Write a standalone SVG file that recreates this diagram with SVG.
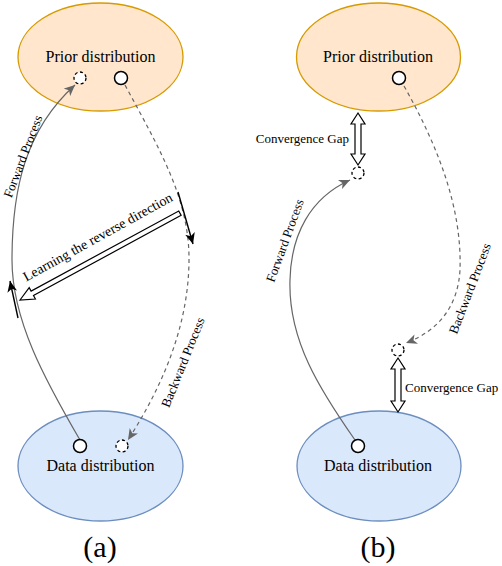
<svg xmlns="http://www.w3.org/2000/svg" width="502" height="566" viewBox="0 0 502 566">
<defs>
<style>
.prior{fill:#ffe6cc;stroke:#d79b00;stroke-width:1.3}
.data{fill:#dae8fc;stroke:#6c8ebf;stroke-width:1.3}
.pt{fill:#fff;stroke:#000;stroke-width:1.5}
.ptd{fill:#fff;stroke:#000;stroke-width:1.3;stroke-dasharray:3 2.5}
.edge{fill:none;stroke:#666;stroke-width:1.2}
.dash{stroke-dasharray:4 3.5}
.blk{fill:none;stroke:#000;stroke-width:1.4}
.hollow{fill:#fff;stroke:#000;stroke-width:1.2}
</style>
<marker id="ag" markerUnits="userSpaceOnUse" markerWidth="12" markerHeight="10" refX="11" refY="5" orient="auto">
<path d="M0,0 L11,5 L0,10 L3,5 z" fill="#666"/>
</marker>
<marker id="ab" markerUnits="userSpaceOnUse" markerWidth="12" markerHeight="10" refX="11" refY="5" orient="auto">
<path d="M0,0 L11,5 L0,10 L3,5 z" fill="#000"/>
</marker>
</defs>
<rect width="502" height="566" fill="#fff"/>

<g id="prior-a">
<ellipse class="prior" cx="100.5" cy="57" rx="82.5" ry="54"/>
<text x="100.5" y="62" text-anchor="middle" font-family="Liberation Serif" font-size="16">Prior distribution</text>
</g>
<g id="data-a">
<ellipse class="data" cx="100.5" cy="466" rx="82.5" ry="55"/>
<text x="100.5" y="471" text-anchor="middle" font-family="Liberation Serif" font-size="16">Data distribution</text>
</g>
<g id="prior-b">
<ellipse class="prior" cx="378.5" cy="57" rx="82" ry="54"/>
<text x="378" y="62" text-anchor="middle" font-family="Liberation Serif" font-size="16">Prior distribution</text>
</g>
<g id="data-b">
<ellipse class="data" cx="379" cy="466" rx="82" ry="55"/>
<text x="378" y="471" text-anchor="middle" font-family="Liberation Serif" font-size="16">Data distribution</text>
</g>

<g id="connectors">
<path class="edge" d="M 80 440 C 45 380, 12 320, 12 260 C 12 190, 25 130, 75 85" marker-end="url(#ag)"/>
<path class="edge dash" d="M 125 85 C 160 150, 190 200, 189 262 C 188 330, 160 390, 128 440" marker-end="url(#ag)"/>
<path class="blk" d="M 18 318 L 10 281" marker-end="url(#ab)"/>
<path class="blk" d="M 178 192 L 193 244" marker-end="url(#ab)"/>
<g id="learn-arrow" transform="translate(20,300) rotate(-28.5)">
<polygon class="hollow" points="0,0 14,-6.5 14,-2.5 182,-2.5 182,2.5 14,2.5 14,6.5"/>
</g>
<path class="edge" d="M 355 440 C 320 390, 288 340, 290 280 C 291 235, 310 198, 350 180" marker-end="url(#ag)"/>
<path class="edge dash" d="M 404 86 C 440 150, 462 210, 460 270 C 458 305, 440 330, 406 343" marker-end="url(#ag)"/>
<polygon class="hollow" points="358,113 365,124 361,124 361,154 365,154 358,165 351,154 355,154 355,124 351,124"/>
<polygon class="hollow" points="398,358 405,369 401,369 401,401 405,401 398,412 391,401 395,401 395,369 391,369"/>
</g>

<g id="points">
<circle class="ptd" cx="80" cy="78" r="6"/>
<circle class="pt" cx="121" cy="78" r="6.5"/>
<circle class="pt" cx="80" cy="446" r="6.5"/>
<circle class="ptd" cx="122" cy="446" r="6"/>
<circle class="pt" cx="399" cy="78" r="6.5"/>
<circle class="pt" cx="358" cy="446" r="6.5"/>
<circle class="ptd" cx="358" cy="173" r="6"/>
<circle class="ptd" cx="398" cy="350" r="6"/>
</g>

<g id="labels" font-family="Liberation Serif">
<text transform="translate(27,158) rotate(-69)" text-anchor="middle" font-size="13">Forward Process</text>
<text transform="translate(187,364) rotate(-68)" text-anchor="middle" font-size="13">Backward Process</text>
<text transform="translate(100,241) rotate(-28.9)" text-anchor="middle" font-size="14">Learning the reverse direction</text>
<text transform="translate(289,242) rotate(-70)" text-anchor="middle" font-size="13">Forward Process</text>
<text transform="translate(474,290) rotate(-69)" text-anchor="middle" font-size="13">Backward Process</text>
<text x="349" y="143" text-anchor="end" font-size="13">Convergence Gap</text>
<text x="405" y="392" font-size="13">Convergence Gap</text>
<text x="100" y="557" text-anchor="middle" font-size="30">(a)</text>
<text x="378" y="557" text-anchor="middle" font-size="30">(b)</text>
</g>
</svg>
